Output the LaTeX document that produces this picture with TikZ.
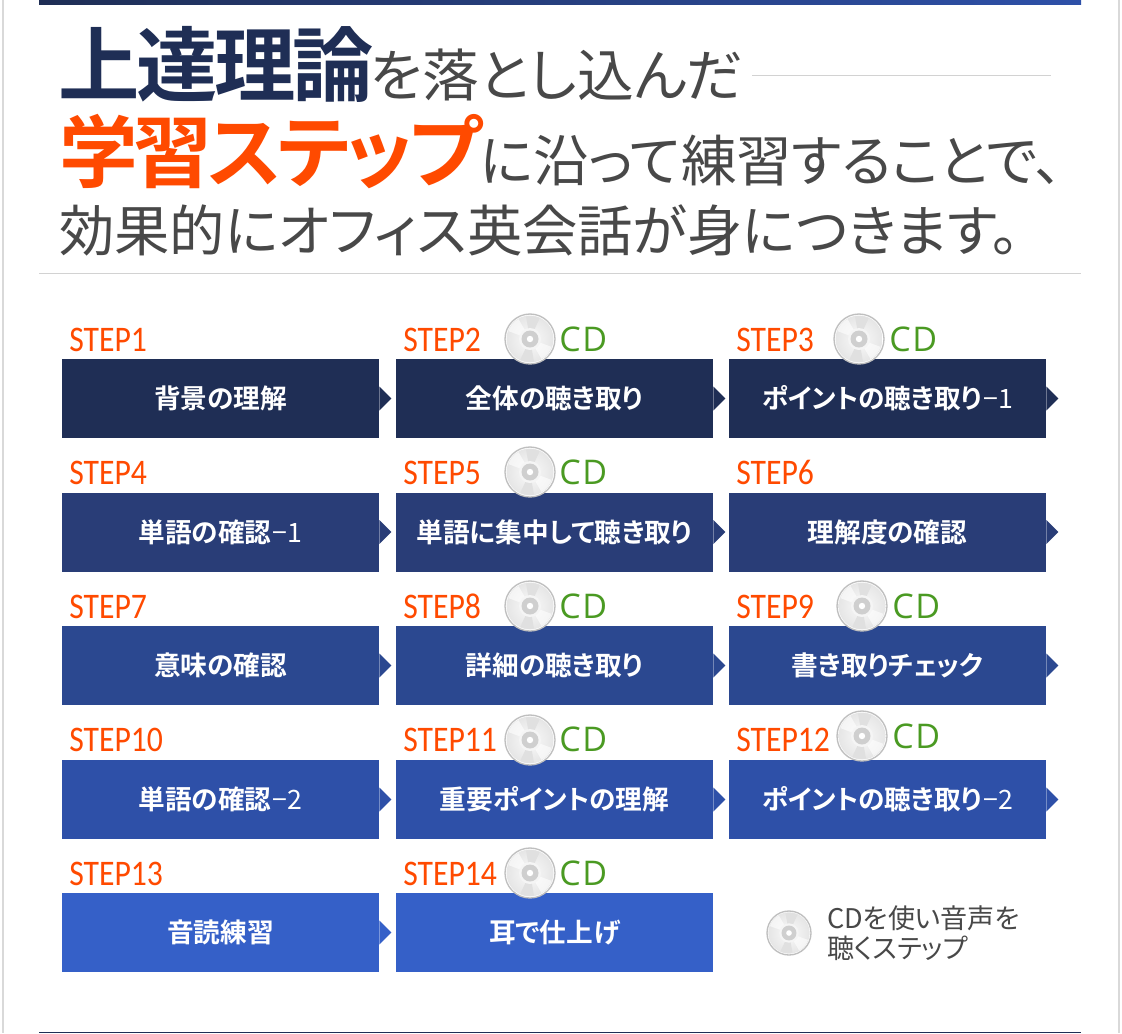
\documentclass[tikz,border=0pt]{standalone}
\usepackage{fontspec}
\setmainfont{Noto Sans CJK JP}[BoldFont={Noto Sans CJK JP Bold},RawFeature=+palt]
\newfontfamily\stepfont{Carlito}[FakeStretch=.88]
\newfontfamily\cdfont{Open Sans}[LetterSpace=5]
\usepackage{tikz}
\usetikzlibrary{calc}
\definecolor{navy}{HTML}{1F2E55}
\definecolor{flame}{HTML}{FF4A00}
\definecolor{inkgrey}{HTML}{484848}
\definecolor{cdgreen}{HTML}{4A9A22}
\definecolor{rowa}{HTML}{1F2E55}
\definecolor{rowb}{HTML}{293D77}
\definecolor{rowc}{HTML}{2B4890}
\definecolor{rowd}{HTML}{2E50A8}
\definecolor{rowe}{HTML}{3560C8}
\tikzset{
  stepbox/.style={minimum width=237.75pt,minimum height=59.25pt,inner sep=0pt,text=white,
    font=\fontsize{20pt}{22pt}\selectfont\bfseries},
  steplabel/.style={anchor=base west,inner sep=0pt,text=flame,font=\fontsize{27pt}{29pt}\selectfont\stepfont},
  cdlabel/.style={anchor=base west,inner sep=0pt,text=cdgreen,font=\fontsize{25.5pt}{27pt}\selectfont\cdfont},
  titleline/.style={anchor=base west,inner sep=0pt},
  cddisc/.pic={
    \fill[white] (0,0) circle (25);
    \shade[inner color=gray!4,outer color=gray!20] (0,0) circle (23.5);
    \fill[gray!24] (0,0) -- (115:23) arc (115:80:23) -- cycle;
    \fill[gray!24] (0,0) -- (295:23) arc (295:260:23) -- cycle;
    \fill[white,opacity=.6] (0,0) -- (20:23) arc (20:60:23) -- cycle;
    \fill[white,opacity=.6] (0,0) -- (200:23) arc (200:240:23) -- cycle;
    \draw[gray!50,line width=1pt] (0,0) circle (25);
    \fill[gray!8] (0,0) circle (11);
    \fill[gray!38] (0,0) circle (8.5);
    \fill[white] (0,0) circle (3.2);
  }
}
\begin{document}
\begin{tikzpicture}[x=.75pt,y=-.75pt]
\useasboundingbox (0,0) rectangle (1122,1033);
\fill[white] (0,0) rectangle (1122,1033);
% page edges and rules
\fill[gray!30] (2,0) rectangle (4,1033);
\fill[gray!30] (1118,0) rectangle (1120,1033);
\shade[left color=navy,right color=rowd] (39,0) rectangle (1081,4);
\draw[gray!35] (39,273.5)--(1081,273.5);
\draw[gray!35] (752,75.5)--(1051,75.5);
\draw[navy] (39,1032.5)--(1081,1032.5);
% heading
\node[titleline,text=navy,font=\fontsize{61pt}{63pt}\selectfont\bfseries\addfontfeature{LetterSpace=-4}] (headA) at (58,95) {上達理論};
\node[titleline,text=inkgrey,font=\fontsize{42.5pt}{44pt}\selectfont] (headB) at (370,96) {を落とし込んだ};
\node[titleline,text=flame,font=\fontsize{59pt}{61pt}\selectfont\bfseries\addfontfeature{LetterSpace=-5.3}] (headC) at (59,181) {学習ステップ};
\node[titleline,text=inkgrey,font=\fontsize{41.5pt}{43pt}\selectfont] (headD) at (480,181) {に沿って練習することで、};
\node[titleline,text=inkgrey,font=\fontsize{41.5pt}{43pt}\selectfont] (headE) at (59,251) {効果的にオフィス英会話が身につきます。};
% step boxes
\node[stepbox,fill=rowa] (box1) at (220.5,398.5) {背景の理解};
\node[stepbox,fill=rowa] (box2) at (554.5,398.5) {全体の聴き取り};
\node[stepbox,fill=rowa] (box3) at (887.5,398.5) {ポイントの聴き取り{\mdseries\kern1pt−1}};
\node[stepbox,fill=rowb] (box4) at (220.5,532) {単語の確認{\mdseries\kern1pt−1}};
\node[stepbox,fill=rowb] (box5) at (554.5,532) {単語に集中して聴き取り};
\node[stepbox,fill=rowb] (box6) at (887.5,532) {理解度の確認};
\node[stepbox,fill=rowc] (box7) at (220.5,665.5) {意味の確認};
\node[stepbox,fill=rowc] (box8) at (554.5,665.5) {詳細の聴き取り};
\node[stepbox,fill=rowc] (box9) at (887.5,665.5) {書き取りチェック};
\node[stepbox,fill=rowd] (box10) at (220.5,799.5) {単語の確認{\mdseries\kern1pt−2}};
\node[stepbox,fill=rowd] (box11) at (554.5,799.5) {重要ポイントの理解};
\node[stepbox,fill=rowd] (box12) at (887.5,799.5) {ポイントの聴き取り{\mdseries\kern1pt−2}};
\node[stepbox,fill=rowe] (box13) at (220.5,932.5) {音読練習};
\node[stepbox,fill=rowe] (box14) at (554.5,932.5) {耳で仕上げ};
% tabs on the boxes
\foreach \n/\c in {1/rowa,2/rowa,3/rowa,4/rowb,5/rowb,6/rowb,7/rowc,8/rowc,9/rowc,10/rowd,11/rowd,12/rowd,13/rowe}{
  \fill[\c] ($(box\n.east)+(0,-12)$) -- ($(box\n.east)+(12,0)$) -- ($(box\n.east)+(0,12)$) -- cycle;
}
% step labels
\foreach \n/\x/\y in {1/69/351,2/403/351,3/736/351,4/69/484,5/403/484,6/736/484,7/69/618,8/403/618,9/736/618,10/69/751,11/403/751,12/736/751,13/69/885,14/403/885}{
  \node[steplabel] (step\n) at (\x,\y) {STEP\n};
}
% discs
\foreach \x/\y in {530/339,859/339,530/472,530/606,862/606,530/740,862/736,530/873}{
  \pic at (\x,\y) {cddisc};
}
\foreach \n/\x/\y in {a/559/351,b/889/351,c/559/484,d/559/618,e/892/618,f/559/751,g/892/748,h/559/885}{
  \node[cdlabel] (cd\n) at (\x,\y) {CD};
}
% legend
\pic[scale=.88] at (789,933) {cddisc};
\node[anchor=west,inner sep=0pt,text=inkgrey,align=left,font=\fontsize{20.3pt}{22pt}\selectfont] (legend) at (827,933) {CDを使い音声を\\聴くステップ};
\end{tikzpicture}
\end{document}
